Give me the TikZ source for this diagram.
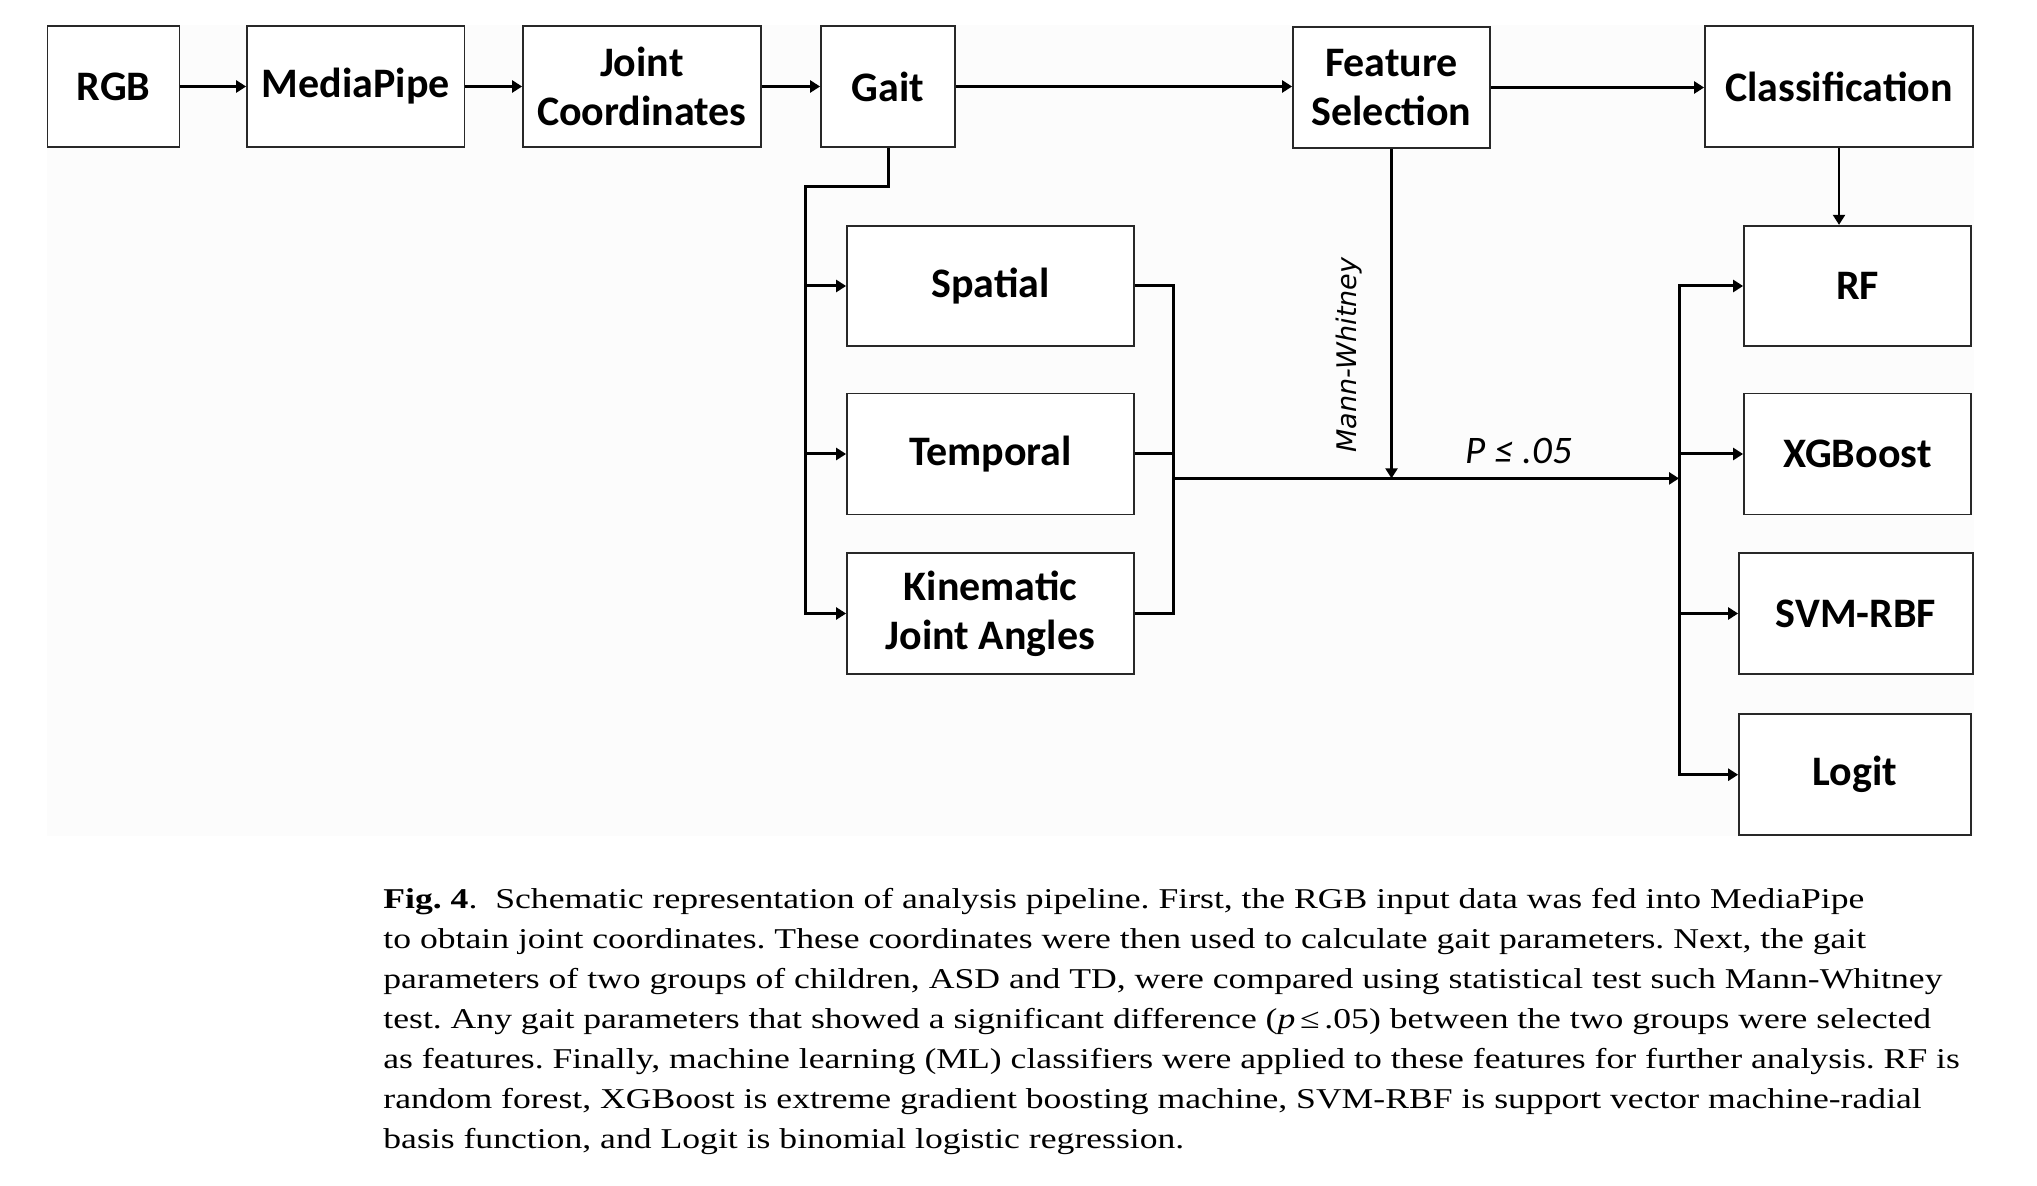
\documentclass[tikz,border=0pt]{standalone}
\usepackage{fontspec}
\setmainfont{Liberation Serif}
\newfontfamily\capfont{Liberation Serif}[FakeStretch=1.242]
\newfontfamily\boxfont{Carlito}
\newfontfamily\mwfont{DejaVu Sans}
\usetikzlibrary{arrows.meta}
\definecolor{bgpanel}{RGB}{252,252,252}
\definecolor{boxline}{RGB}{40,40,40}
\begin{document}
\begin{tikzpicture}[x=0.5pt,y=-0.5pt,
  box/.style={draw=boxline, line width=0.9pt, fill=white, align=center, inner sep=0pt,
    font=\boxfont\bfseries\fontsize{21}{24.5}\selectfont},
  conn/.style={line width=1.5pt},
  thin conn/.style={line width=1.1pt},
  arr/.style={-{Triangle[length=5pt,width=6pt]}},
]
\useasboundingbox (0,0) rectangle (2037,1186);
\fill[white] (0,0) rectangle (2037,1186);
\fill[bgpanel] (47,25) rectangle (1974,836);

% top row
\node[box, minimum width=66pt,    minimum height=60.5pt] (rgb)  at (113.5,86.5) {RGB};
\node[box, minimum width=108.75pt,minimum height=60.5pt] (mp)   at (355.8,86.5) {MediaPipe};
\node[box, minimum width=118.8pt, minimum height=60.5pt] (jc)   at (641.8,86.5) {Joint\\Coordinates};
\node[box, minimum width=67pt,    minimum height=60.5pt] (gait) at (888,86.5) {Gait};
\node[box, minimum width=98.5pt,  minimum height=60.25pt] (fs)  at (1391.5,87.5) {Feature\\Selection};
\node[box, minimum width=134pt,   minimum height=60.5pt] (cls)  at (1839,86.5) {Classification};

% gait parameter boxes
\node[box, minimum width=143.5pt, minimum height=60.25pt] (sp)  at (990.5,286) {Spatial};
\node[box, minimum width=143.5pt, minimum height=60.5pt]  (tp)  at (990.5,454) {Temporal};
\node[box, minimum width=143.5pt, minimum height=60.5pt]  (kin) at (990.5,613.5) {Kinematic\\Joint Angles};

% classifiers
\node[box, minimum width=113.5pt, minimum height=60.25pt] (rf)  at (1857.5,286) {RF};
\node[box, minimum width=113.5pt, minimum height=60.5pt]  (xg)  at (1857.5,454) {XGBoost};
\node[box, minimum width=117pt,   minimum height=60.5pt]  (svm) at (1856,613.5) {SVM-RBF};
\node[box, minimum width=116pt,   minimum height=60.5pt]  (lg)  at (1855,774.7) {Logit};

% top row arrows
\draw[conn,arr] (rgb.east) -- (mp.west);
\draw[conn,arr] (mp.east) -- (jc.west);
\draw[conn,arr] (jc.east) -- (gait.west);
\draw[conn,arr] (gait.east) -- (gait.east -| fs.west);
\draw[conn,arr] (fs.east) -- (fs.east -| cls.west);

% gait branches
\coordinate (g1) at (805.5,186.5);
\draw[conn,arr] (gait.south) |- (g1) |- (kin.west);
\draw[conn,arr] (g1 |- sp.west) -- (sp.west);
\draw[conn,arr] (g1 |- tp.west) -- (tp.west);

% merge bracket
\coordinate (b1) at (1173,478.4);
\coordinate (b2) at (1679,478.4);
\draw[conn] (sp.east) -| (b1) |- (kin.east);
\draw[conn] (tp.east) -- (tp.east -| b1);
\draw[conn,arr] (b1) -- (b2);

% feature selection test
\draw[thin conn,arr] (fs.south) -- (fs.south |- b1);
\node[rotate=90, inner sep=0pt, font=\mwfont\itshape\fontsize{13.5}{16}\selectfont] (mw) at (1349,355) {Mann-Whitney};
\node[anchor=base, inner sep=0pt, font=\boxfont\itshape\fontsize{19.5}{22}\selectfont] (pv) at (1519,464) {P ≤ .05};

% classifier branches
\draw[thin conn,arr] (cls.south) -- (cls.south |- rf.north);
\draw[conn,arr] (b2) |- (rf.west);
\draw[conn,arr] (b2) |- (lg.west);
\draw[conn,arr] (b2 |- xg.west) -- (xg.west);
\draw[conn,arr] (b2 |- svm.west) -- (svm.west);

% caption
\node[anchor=north west, inner sep=0pt, align=left, font=\capfont\frenchspacing\fontsize{14.35}{20}\selectfont] (cap) at (383,888)
{\textbf{Fig. 4}.\ \ Schematic representation of analysis pipeline. First, the RGB input data was fed into MediaPipe\\
to obtain joint coordinates. These coordinates were then used to calculate gait parameters. Next, the gait\\
parameters of two groups of children, ASD and TD, were compared using statistical test such Mann-Whitney\\
test. Any gait parameters that showed a significant difference (\textit{p}\,≤\,.05) between the two groups were selected\\
as features. Finally, machine learning (ML) classifiers were applied to these features for further analysis. RF is\\
random forest, XGBoost is extreme gradient boosting machine, SVM-RBF is support vector machine-radial\\
basis function, and Logit is binomial logistic regression.};
\end{tikzpicture}
\end{document}
